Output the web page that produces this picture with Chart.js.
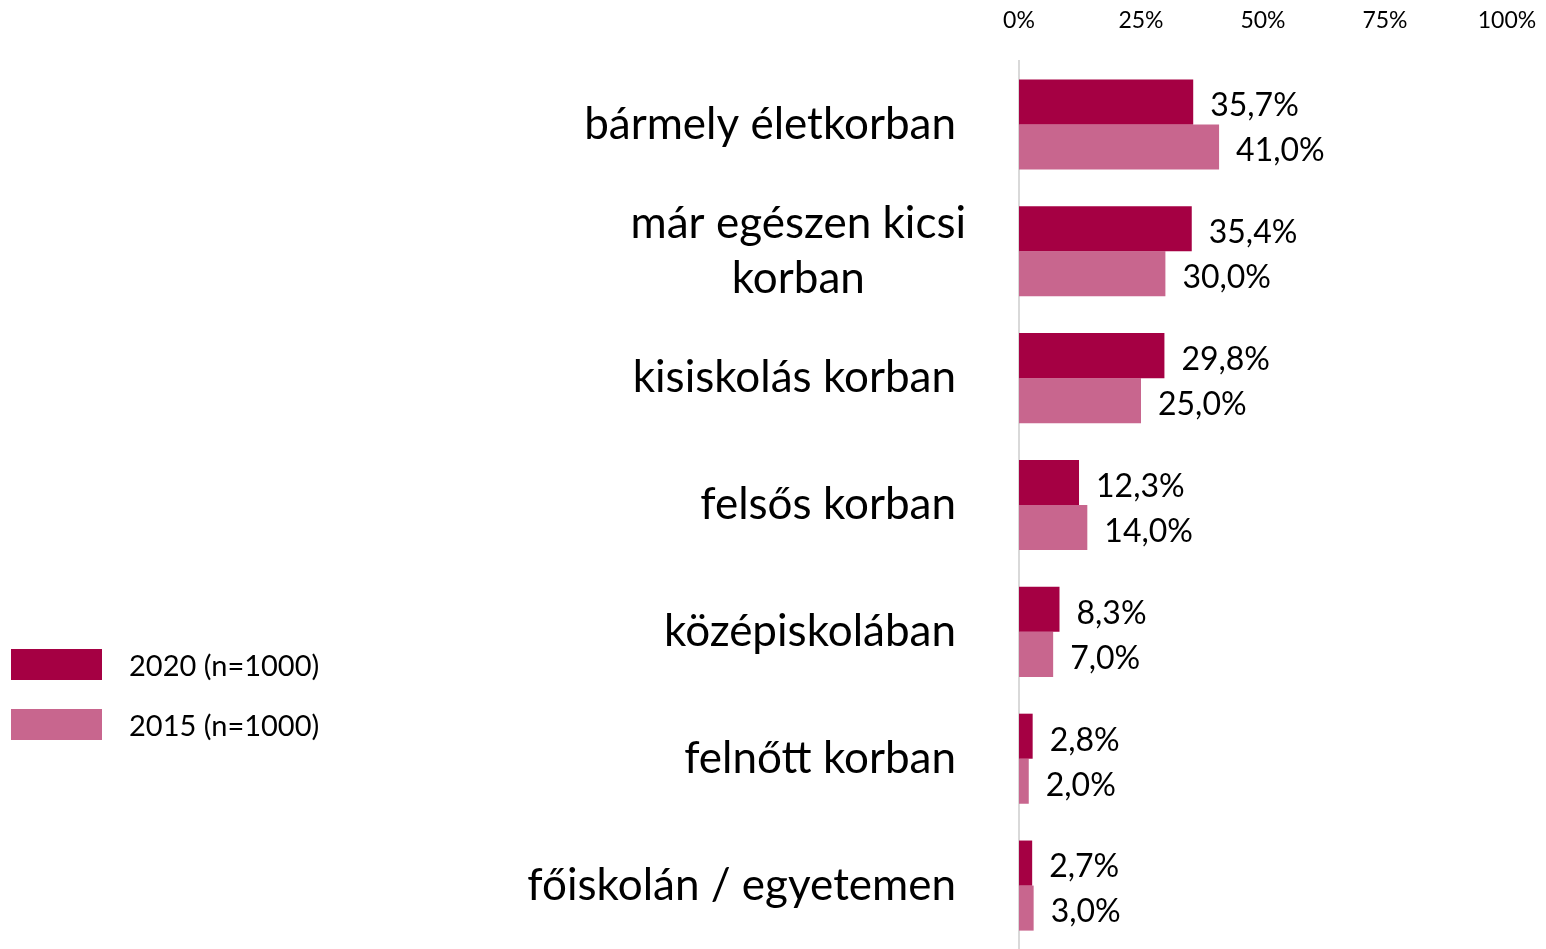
<!DOCTYPE html>
<html lang="hu">
<head>
<meta charset="utf-8">
<script src="https://cdn.jsdelivr.net/npm/chart.js@4.4.1/dist/chart.umd.min.js"></script>
<style>
  body { margin: 0; background: #fff; }
  #wrap { position: relative; width: 1546px; height: 949px; }
  #legend { position: absolute; left: 11px; top: 648px; font-family: Lato, sans-serif; font-size: 29px; color: #000; }
  .leg-row { display: flex; align-items: center; height: 32px; margin-bottom: 28px; }
  .leg-box { width: 91px; height: 31px; margin-right: 27px; }
</style>
</head>
<body>
<div id="wrap">
  <canvas id="chart" width="1546" height="949"></canvas>
  <div id="legend"></div>
</div>
<script>
    // Adatok
    const categories = [
        ['bármely életkorban'],
        ['már egészen kicsi', 'korban'],
        ['kisiskolás korban'],
        ['felsős korban'],
        ['középiskolában'],
        ['felnőtt korban'],
        ['főiskolán / egyetemen']
    ];
    const values2020 = [35.7, 35.4, 29.8, 12.3, 8.3, 2.8, 2.7];
    const values2015 = [41.0, 30.0, 25.0, 14.0, 7.0, 2.0, 3.0];
    const seriesNames = ['2020 (n=1000)', '2015 (n=1000)'];
    const seriesColors = ['#a50043', '#c8668e'];
    const xTicks = [0, 25, 50, 75, 100];

    function fmt(v) {
        return v.toFixed(1).replace('.', ',') + '%';
    }

    // Értékcímkék a sávok mellett
    const valueLabels = {
        id: 'valueLabels',
        afterDatasetsDraw(chart) {
            const ctx = chart.ctx;
            ctx.save();
            ctx.font = '32px Lato, sans-serif';
            ctx.fillStyle = '#000';
            ctx.textAlign = 'left';
            ctx.textBaseline = 'middle';
            chart.data.datasets.forEach((ds, di) => {
                chart.getDatasetMeta(di).data.forEach((bar, i) => {
                    ctx.fillText(fmt(ds.data[i]), bar.x + 17, bar.y + 4);
                });
            });
            ctx.restore();
        }
    };

    // Kategóriacímkék (a kétsoros középre igazítva)
    const categoryLabels = {
        id: 'categoryLabels',
        afterDraw(chart) {
            const ctx = chart.ctx;
            const yScale = chart.scales.y;
            const rightX = chart.chartArea.left - 63;
            ctx.save();
            ctx.font = '44px Lato, sans-serif';
            ctx.fillStyle = '#000';
            ctx.textBaseline = 'middle';
            categories.forEach((lines, i) => {
                const cy = yScale.getPixelForValue(i);
                if (lines.length === 1) {
                    ctx.textAlign = 'right';
                    ctx.fillText(lines[0], rightX, cy);
                } else {
                    const maxW = Math.max(...lines.map(l => ctx.measureText(l).width));
                    const cx = rightX + 10 - maxW / 2;
                    ctx.textAlign = 'center';
                    const lh = 55;
                    lines.forEach((l, k) => {
                        ctx.fillText(l, cx, cy + (k - (lines.length - 1) / 2) * lh);
                    });
                }
            });
            ctx.restore();
        }
    };

    new Chart(document.getElementById('chart'), {
        type: 'bar',
        data: {
            labels: categories.map(c => c.join(' ')),
            datasets: [{
                label: seriesNames[0],
                data: values2020,
                backgroundColor: seriesColors[0],
                barPercentage: 1,
                categoryPercentage: 0.71
            }, {
                label: seriesNames[1],
                data: values2015,
                backgroundColor: seriesColors[1],
                barPercentage: 1,
                categoryPercentage: 0.71
            }]
        },
        options: {
            indexAxis: 'y',
            responsive: false,
            animation: false,
            layout: {
                padding: { left: 1019, right: 39, top: 0, bottom: 0 }
            },
            plugins: {
                legend: { display: false },
                tooltip: { enabled: false }
            },
            scales: {
                x: {
                    position: 'top',
                    min: 0,
                    max: 100,
                    afterBuildTicks: axis => {
                        axis.ticks = xTicks.map(v => ({ value: v }));
                    },
                    afterFit: axis => {
                        axis.height = 61;
                        axis.paddingLeft = 0;
                        axis.paddingRight = 0;
                    },
                    ticks: {
                        callback: v => v + '%',
                        color: '#000',
                        font: { family: 'Lato, sans-serif', size: 23 },
                        padding: 27,
                        maxRotation: 0
                    },
                    grid: { display: false, drawTicks: false },
                    border: { display: false }
                },
                y: {
                    afterFit: axis => { axis.width = 0; },
                    ticks: { display: false },
                    grid: { display: false, drawTicks: false },
                    border: { color: '#d9d9d9', width: 2 }
                }
            }
        },
        plugins: [valueLabels, categoryLabels]
    });

    // Jelmagyarázat
    const legend = document.getElementById('legend');
    seriesNames.forEach((name, i) => {
        const row = document.createElement('div');
        row.className = 'leg-row';
        row.innerHTML = '<span class="leg-box" style="background:' + seriesColors[i] + '"></span><span>' + name + '</span>';
        legend.appendChild(row);
    });
</script>
</body>
</html>
